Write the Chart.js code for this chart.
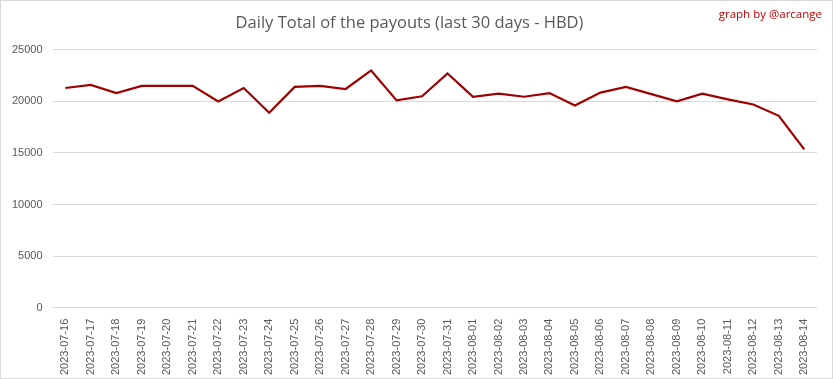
<!DOCTYPE html>
<html>
<head>
<meta charset="utf-8">
<script src="https://cdn.jsdelivr.net/npm/chart.js@4/dist/chart.umd.min.js"></script>
<style>
html,body{margin:0;padding:0;background:#fff;}
#wrap{width:833px;height:379px;position:relative;}
</style>
</head>
<body>
<div id="wrap"><canvas id="c" width="833" height="379"></canvas></div>
<script>
const categories = ["2023-07-16","2023-07-17","2023-07-18","2023-07-19","2023-07-20","2023-07-21","2023-07-22","2023-07-23","2023-07-24","2023-07-25","2023-07-26","2023-07-27","2023-07-28","2023-07-29","2023-07-30","2023-07-31","2023-08-01","2023-08-02","2023-08-03","2023-08-04","2023-08-05","2023-08-06","2023-08-07","2023-08-08","2023-08-09","2023-08-10","2023-08-11","2023-08-12","2023-08-13","2023-08-14"];
const payouts = [21300,21600,20800,21500,21500,21500,20000,21300,18900,21400,21500,21200,23000,20100,20500,22700,20450,20750,20450,20800,19600,20850,21400,20700,20000,20750,20200,19700,18600,15350];
const yTicks = [0,5000,10000,15000,20000,25000];
const titleText = "Daily Total of the payouts (last 30 days - HBD)";
const creditText = "graph by @arcange";

const extras = {
  id: 'extras',
  afterDraw(chart) {
    const ctx = chart.ctx;
    ctx.save();
    ctx.strokeStyle = '#d9d9d9';
    ctx.lineWidth = 1;
    ctx.strokeRect(0.5, 0.5, 832, 378);
    ctx.fillStyle = '#c00000';
    ctx.font = '11.5px "Open Sans", "Liberation Sans", sans-serif';
    ctx.textAlign = 'right';
    ctx.textBaseline = 'middle';
    ctx.fillText(creditText, 822, 15);
    ctx.restore();
  }
};

new Chart(document.getElementById('c'), {
  type: 'line',
  data: {
    labels: categories,
    datasets: [{
      data: payouts,
      borderColor: '#9e0000',
      borderWidth: 2.2,
      pointRadius: 0,
      tension: 0,
      fill: false
    }]
  },
  options: {
    responsive: false,
    animation: false,
    devicePixelRatio: 1,
    layout: { padding: { left: 2, right: 16, top: 8, bottom: 1 } },
    plugins: {
      legend: { display: false },
      tooltip: { enabled: false },
      title: {
        display: true,
        text: titleText,
        color: '#595959',
        font: { family: '"Open Sans", "Liberation Sans", sans-serif', size: 16.5, weight: 'normal' },
        padding: { top: 5, bottom: 17 }
      }
    },
    scales: {
      x: {
        offset: true,
        grid: { display: false },
        border: { display: false },
        ticks: {
          autoSkip: false,
          minRotation: 90,
          maxRotation: 90,
          color: '#595959',
          font: { family: '"Liberation Sans", Arial, sans-serif', size: 11 },
          padding: 3
        }
      },
      y: {
        min: 0,
        max: 25000,
        afterBuildTicks(axis) { axis.ticks = yTicks.map(v => ({ value: v })); },
        grid: { color: '#d9d9d9', lineWidth: 1, drawTicks: false },
        border: { display: false },
        ticks: {
          color: '#595959',
          font: { family: '"Liberation Sans", Arial, sans-serif', size: 11 },
          padding: 10,
          callback: (v) => String(v)
        }
      }
    }
  },
  plugins: [extras]
});
</script>
</body>
</html>
